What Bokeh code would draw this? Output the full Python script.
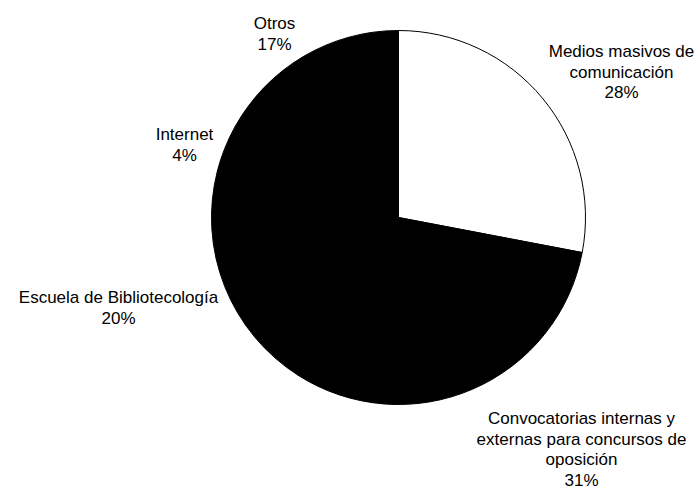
import math
from bokeh.plotting import figure
from bokeh.models import Range1d, ColumnDataSource
from bokeh.core.properties import value
from bokeh.embed import file_html
from bokeh.resources import INLINE

# ---- data ----
categories = [
    "Medios masivos de\ncomunicación",
    "Convocatorias internas y\nexternas para concursos de\noposición",
    "Escuela de Bibliotecología",
    "Internet",
    "Otros",
]
percentages = [28, 31, 20, 4, 17]
slice_colors = ["#ffffff", "#000000", "#000000", "#000000", "#000000"]

# ---- layout (screen-pixel anchors of first label line baseline, centre x) ----
W, H = 699, 487
label_anchor_px = [(621, 51), (581, 418), (118, 297), (184, 134), (274, 23)]
center_px = (398, 217)
radius_px = 187
line_step = 20.7

def to_data(sx, sy):
    return sx, H - sy

p = figure(width=W, height=H, output_backend="svg", toolbar_location=None,
           x_range=Range1d(0, W), y_range=Range1d(0, H), min_border=0)
p.axis.visible = False
p.grid.visible = False
p.outline_line_color = None
p.background_fill_color = "white"

total = sum(percentages)
starts, ends = [], []
cum = 0.0
for v in percentages:
    a0 = math.pi / 2 - 2 * math.pi * cum / total
    cum += v
    a1 = math.pi / 2 - 2 * math.pi * cum / total
    starts.append(a1)
    ends.append(a0)

cx, cy = to_data(*center_px)
src = ColumnDataSource(dict(x=[cx] * len(percentages), y=[cy] * len(percentages),
                            start=starts, end=ends, color=slice_colors))
p.wedge(x="x", y="y", radius=radius_px, radius_units="screen", start_angle="start",
        end_angle="end", fill_color="color", line_color="black", line_width=1,
        source=src)

tx, ty, tt = [], [], []
for name, pct, (ax, ay) in zip(categories, percentages, label_anchor_px):
    lines = name.split("\n") + [f"{pct}%"]
    for i, ln in enumerate(lines):
        dx, dy = to_data(ax, ay + i * line_step)
        tx.append(dx)
        ty.append(dy)
        tt.append(ln)

p.text(x=tx, y=ty, text=tt, text_align="center", text_baseline="alphabetic",
       text_font=value("Liberation Sans"), text_font_size="17px", text_color="black")

open("out.html", "w").write(file_html(p, INLINE))
